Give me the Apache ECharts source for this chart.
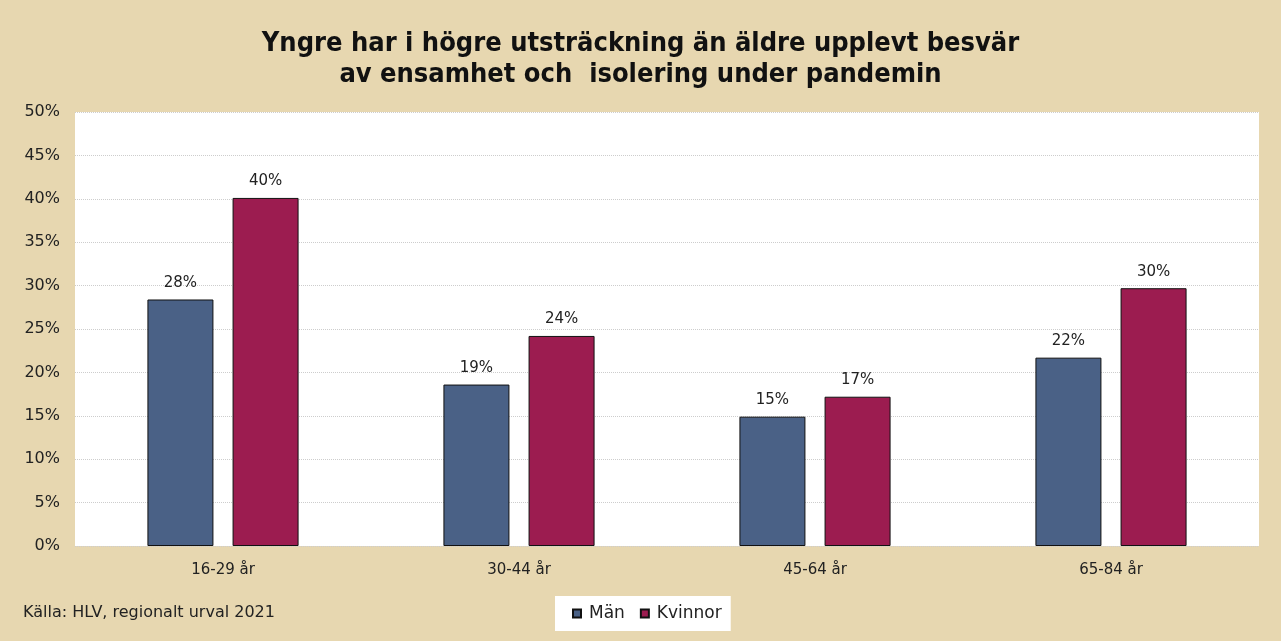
<!DOCTYPE html>
<html>
<head>
<meta charset="utf-8">
<script src="https://cdn.jsdelivr.net/npm/echarts@6/dist/echarts.min.js"></script>
<style>
  html, body { margin: 0; padding: 0; background: #e7d7b0; }
  #chart { width: 1281px; height: 641px; }
</style>
</head>
<body>
<div id="chart"></div>
<script>
// data
const categories = ['16-29 år', '30-44 år', '45-64 år', '65-84 år']
const man = [28.4, 18.6, 14.9, 21.7]
const kvinnor = [40.1, 24.2, 17.2, 29.7]
const seriesNames = ['Män', 'Kvinnor']

const chart = echarts.init(document.getElementById('chart'))
const font = 'DejaVu Sans'

const barLabel = {
  show: true,
  position: 'top',
  distance: 9,
  fontFamily: font,
  fontSize: 15,
  color: '#222',
  formatter: p => Math.round(p.value) + '%'
}

chart.setOption({
  backgroundColor: '#e7d7b0',
  title: {
    text: 'Yngre har i högre utsträckning än äldre upplevt besvär\nav ensamhet och  isolering under pandemin',
    left: 'center',
    top: 23,
    textStyle: {
      fontFamily: "'DejaVu Sans Condensed', 'Liberation Sans', sans-serif",
      fontWeight: 'bold',
      fontSize: 27,
      lineHeight: 31,
      color: '#111'
    }
  },
  legend: {
    data: seriesNames,
    left: 555,
    top: 596,
    backgroundColor: '#fff',
    padding: [9, 9, 9, 17],
    itemWidth: 8,
    itemHeight: 8,
    itemGap: 15,
    icon: 'rect',
    textStyle: { fontFamily: font, fontSize: 17, color: '#222', padding: [0, 0, 0, 3] }
  },
  graphic: [{
    type: 'text',
    left: 23,
    top: 605,
    style: { text: 'Källa: HLV, regionalt urval 2021', font: '16px "DejaVu Sans"', fill: '#222' }
  }],
  grid: {
    left: 75,
    right: 22,
    top: 112,
    bottom: 95,
    show: true,
    backgroundColor: '#fff',
    borderWidth: 0
  },
  xAxis: {
    type: 'category',
    data: categories,
    axisLine: { show: false },
    axisTick: { show: false },
    axisLabel: { fontFamily: font, fontSize: 15, color: '#222', margin: 17 }
  },
  yAxis: {
    type: 'value',
    min: 0,
    max: 50,
    interval: 5,
    axisLine: { show: false },
    axisTick: { show: false },
    axisLabel: { fontFamily: font, fontSize: 16, color: '#222', margin: 15, formatter: '{value}%' },
    splitLine: { lineStyle: { color: '#cdcdcd', type: [1, 1], width: 1 } }
  },
  series: [
    {
      name: seriesNames[0],
      type: 'bar',
      data: man,
      barWidth: 66,
      barGap: '29%',
      itemStyle: { color: '#4a6186', borderColor: '#111', borderWidth: 1 },
      label: barLabel
    },
    {
      name: seriesNames[1],
      type: 'bar',
      data: kvinnor,
      barWidth: 66,
      itemStyle: { color: '#9c1c50', borderColor: '#111', borderWidth: 1 },
      label: barLabel
    }
  ]
})

window.addEventListener('resize', () => {
  chart.resize()
})
</script>
</body>
</html>
